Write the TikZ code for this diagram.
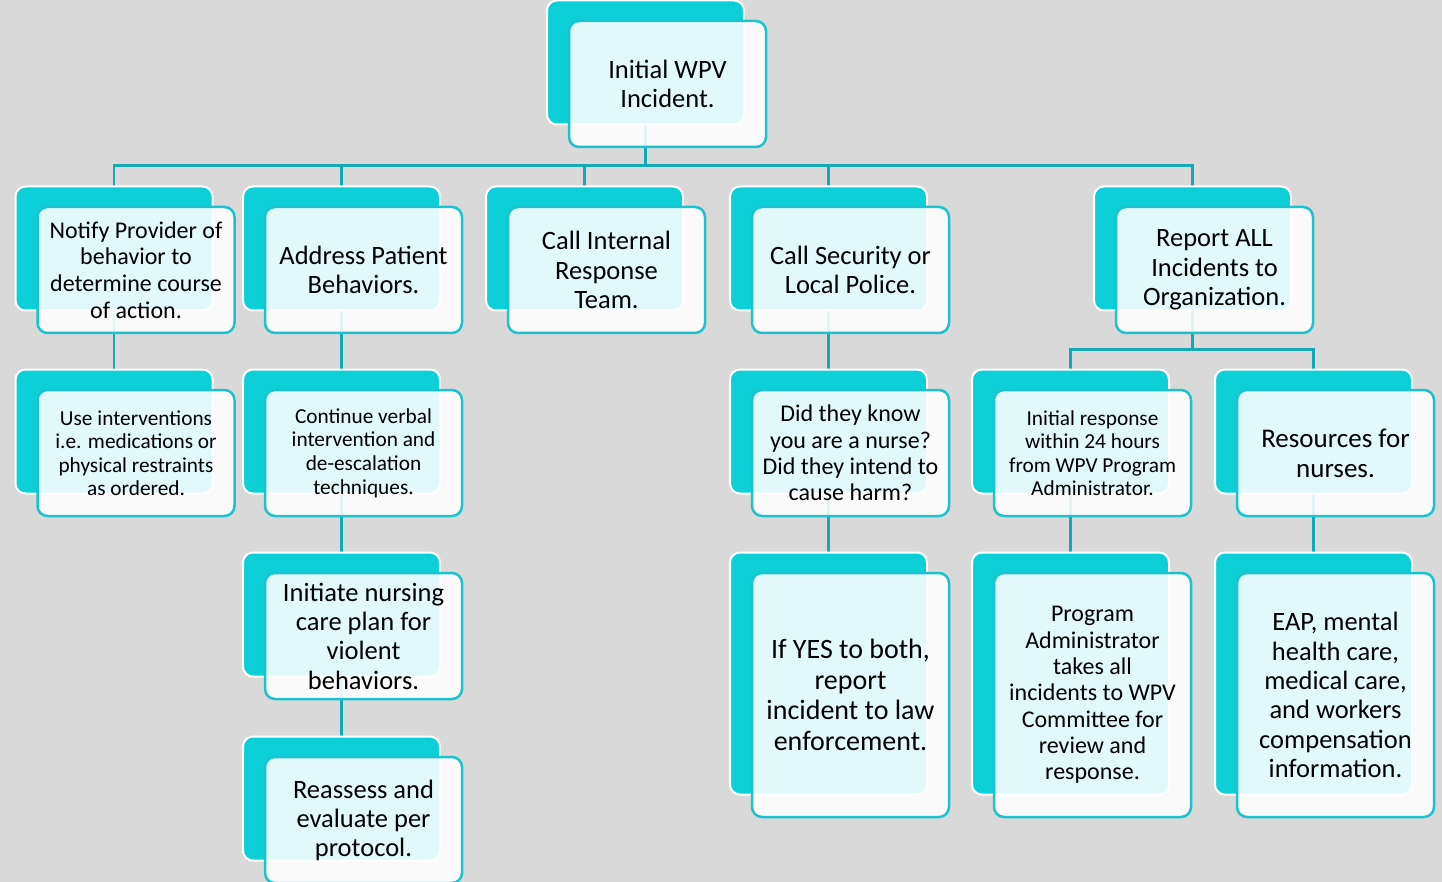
\documentclass[tikz,border=0pt]{standalone}
\usepackage{fontspec}
\setmainfont{Carlito}
\pgfdeclarelayer{bg}
\pgfsetlayers{bg,main}
\definecolor{pagegrey}{HTML}{D9D9D9}
\definecolor{tealback}{HTML}{0CCFD8}
\definecolor{tealedge}{HTML}{1BC3CE}
\definecolor{tealline}{HTML}{14AAB5}
\tikzset{
  backbox/.style={draw=white, line width=2pt, fill=tealback, rounded corners=10pt,
    minimum width=197pt, inner sep=0pt, outer sep=0pt},
  frontbox/.style={draw=tealedge, line width=2.5pt, fill=white, fill opacity=0.88,
    text opacity=1, rounded corners=10pt, minimum width=197pt, inner sep=0pt,
    outer sep=0pt, align=center, text=black},
  link/.style={draw=tealline, line width=2.6pt}
}
% #1 name, #2 x, #3 y (centre of the back card), #4 height, #5 font size, #6 line skip, #7 text
\newcommand\wpvcard[7]{%
  \node[backbox, minimum height=#4] (#1b) at (#2,#3) {};
  \node[frontbox, minimum height=#4+2, font=\fontsize{#5}{#6}\selectfont] (#1) at (#2+22,#3+21.5) {#7};
}
\begin{document}
\begin{tikzpicture}[x=1pt,y=-1pt]
\useasboundingbox (0,0) rectangle (1442,882);
\begin{pgfonlayer}{bg}
  \fill[pagegrey] (0,0) rectangle (1442,882);
\end{pgfonlayer}

% root
\wpvcard{root}{645.5}{62.5}{124}{26.5}{29}{Initial WPV\\Incident.}

% first level
\wpvcard{notify}{114}{248.5}{124}{24}{26.7}{Notify Provider of\\behavior to\\determine course\\of action.}
\wpvcard{address}{341.5}{248.5}{124}{26.5}{29}{Address Patient\\Behaviors.}
\wpvcard{internal}{584.5}{248.5}{124}{26.5}{29.5}{Call Internal\\Response\\Team.}
\wpvcard{security}{828.5}{248.5}{124}{26.5}{29}{Call Security or\\Local Police.}
\wpvcard{report}{1192.5}{248.5}{124}{26.5}{29.5}{Report ALL\\Incidents to\\Organization.}

% second level
\wpvcard{interv}{114}{431.5}{124}{21.3}{23.5}{Use interventions\\i.e. medications or\\physical restraints\\as ordered.}
\wpvcard{verbal}{341.5}{431.5}{124}{21.3}{23.6}{Continue verbal\\intervention and\\de-escalation\\techniques.}
\wpvcard{know}{828.5}{431.5}{124}{24}{26.3}{Did they know\\you are a nurse?\\Did they intend to\\cause harm?}
\wpvcard{initial}{1070.5}{431.5}{124}{21.3}{23.5}{Initial response\\within 24 hours\\from WPV Program\\Administrator.}
\wpvcard{resources}{1313.5}{431.5}{124}{27}{30}{Resources for\\nurses.}

% third and fourth level
\wpvcard{careplan}{341.5}{614.5}{124}{26.5}{29.3}{Initiate nursing\\care plan for\\violent\\behaviors.}
\wpvcard{reassess}{341.5}{798.5}{124}{26.5}{29}{Reassess and\\evaluate per\\protocol.}
\wpvcard{lawenf}{828.5}{673.5}{242}{28}{30.7}{If YES to both,\\report\\incident to law\\enforcement.}
\wpvcard{committee}{1070.5}{673.5}{242}{24}{26.3}{Program\\Administrator\\takes all\\incidents to WPV\\Committee for\\review and\\response.}
\wpvcard{eap}{1313.5}{673.5}{242}{26.5}{29.3}{EAP, mental\\health care,\\medical care,\\and workers\\compensation\\information.}

% connectors, behind the cards
\begin{pgfonlayer}{bg}
  \foreach \c in {notifyb,addressb,internalb,securityb,reportb}
    \draw[link] (rootb.south) -- ++(0,41) -| (\c.north);
  \foreach \c in {initialb,resourcesb}
    \draw[link] (reportb.south) -- ++(0,39) -| (\c.north);
  \draw[link] (notifyb.south) -- (intervb.north);
  \draw[link] (addressb.south) -- (verbalb.north);
  \draw[link] (verbalb.south) -- (careplanb.north);
  \draw[link] (careplanb.south) -- (reassessb.north);
  \draw[link] (securityb.south) -- (knowb.north);
  \draw[link] (knowb.south) -- (lawenfb.north);
  \draw[link] (initialb.south) -- (committeeb.north);
  \draw[link] (resourcesb.south) -- (eapb.north);
\end{pgfonlayer}
\end{tikzpicture}
\end{document}
